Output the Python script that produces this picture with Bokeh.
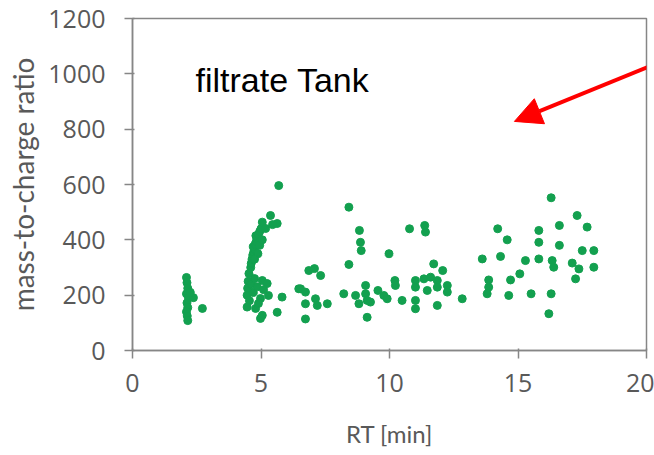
from bokeh.plotting import figure
from bokeh.models import Range1d, FixedTicker, Arrow, NormalHead, Label
from bokeh.embed import file_html
from bokeh.resources import INLINE

# Retention time [min]
rt = [
    # ~2 min cluster
    2.10, 2.12, 2.15, 2.10, 2.18, 2.37, 2.12, 2.15, 2.10, 2.13, 2.15, 2.72, 2.25,
    # ~5 min cluster (upper band)
    4.60, 4.62, 4.65, 4.68, 4.72, 4.75, 4.70, 4.78, 4.82, 4.85, 4.80, 4.90, 4.95, 5.00,
    4.88, 4.95, 5.05, 4.75, 5.05, 5.18, 5.37, 5.63, 5.45, 5.69,
    # ~5 min cluster (lower)
    4.53, 4.50, 4.48, 4.46, 4.46, 4.55, 4.62, 4.70, 4.75, 5.05, 5.24, 5.29, 4.98, 4.79,
    5.05, 4.98, 4.85, 4.90, 5.10, 5.82, 5.63, 6.47,
    # 6.5 - 10 min
    8.42, 8.83, 8.87, 8.90, 9.98, 8.42, 6.86, 7.08, 7.32, 6.54, 6.73, 6.73, 7.12, 7.19,
    7.58, 6.73, 8.22, 8.68, 8.81, 9.07, 9.07, 9.13, 9.26, 9.55, 9.78, 9.13,
    # 10 - 13.5 min
    10.78, 11.37, 11.40, 11.72, 12.07, 10.21, 10.23, 11.01, 11.34, 11.60, 11.86, 11.01,
    11.47, 11.86, 12.25, 12.25, 9.91, 10.49, 11.01, 11.01, 11.86, 12.83,
    # 13.5 - 18 min
    16.29, 17.30, 17.69, 14.21, 14.58, 15.81, 15.81, 16.61, 16.61, 17.50, 17.95, 13.61,
    14.32, 15.29, 15.81, 16.33, 16.39, 17.11, 17.37, 17.95, 17.24, 15.07, 14.71, 13.86,
    13.86, 13.80, 14.64, 15.51, 16.29, 16.20,
]

# mass-to-charge ratio
mz = [
    264, 245, 225, 205, 190, 191, 172, 155, 140, 125, 108, 152, 210,
    300, 315, 330, 345, 355, 365, 375, 385, 395, 405, 415, 420, 430, 440,
    350, 380, 400, 330, 464, 441, 488, 459, 455, 596,
    278, 250, 225, 200, 157, 180, 240, 210, 260, 253, 242, 199, 188, 152,
    127, 116, 230, 170, 220, 193, 138, 223,
    518, 434, 391, 361, 350, 311, 289, 296, 271, 223, 211, 169, 187, 163,
    169, 114, 205, 199, 169, 235, 205, 181, 175, 217, 199, 120,
    440, 452, 428, 313, 289, 253, 235, 253, 259, 265, 253, 229,
    217, 229, 235, 211, 187, 181, 181, 151, 163, 187,
    552, 488, 446, 440, 400, 434, 391, 452, 380, 361, 361, 331,
    340, 325, 331, 325, 301, 316, 295, 301, 259, 277, 255, 255,
    229, 205, 199, 205, 205, 133,
]

x_ticks = [0, 5, 10, 15, 20]
y_ticks = [0, 200, 400, 600, 800, 1000, 1200]

axis_grey = "#868686"
label_grey = "#595959"
green = "#13a04f"

p = figure(width=654, height=455, output_backend="svg", toolbar_location=None,
           x_range=Range1d(0, 20), y_range=Range1d(0, 1200),
           min_border_left=132, min_border_right=8, min_border_top=18,
           min_border_bottom=105)

p.xgrid.visible = False
p.ygrid.visible = False
p.outline_line_color = axis_grey
p.outline_line_width = 1.5
p.background_fill_color = "white"
p.border_fill_color = "white"

for ax, ticks in ((p.xaxis[0], x_ticks), (p.yaxis[0], y_ticks)):
    ax.ticker = FixedTicker(ticks=ticks)
    ax.axis_line_color = axis_grey
    ax.axis_line_width = 1.5
    ax.major_tick_line_color = axis_grey
    ax.major_tick_line_width = 1.5
    ax.major_tick_out = 8
    ax.major_tick_in = 2
    ax.minor_tick_line_color = None
    ax.major_label_text_font = "Open Sans"
    ax.major_label_text_font_size = "25px"
    ax.major_label_text_color = label_grey
    ax.axis_label_text_font = "Lato"
    ax.axis_label_text_font_style = "normal"
    ax.axis_label_text_color = label_grey

p.xaxis.axis_label = "RT [min]"
p.yaxis.axis_label = "mass-to-charge ratio"
p.xaxis.axis_label_text_font_size = "24px"
p.yaxis.axis_label_text_font_size = "28px"
p.xaxis.major_label_standoff = 15
p.yaxis.major_label_standoff = 19
p.xaxis.axis_label_standoff = 24
p.yaxis.axis_label_standoff = 5

p.scatter(rt, mz, size=8, color=green, line_color=green)

p.add_layout(Label(x=2.45, y=979, text="filtrate Tank", text_font="Liberation Sans",
                   text_font_size="34px", text_color="black",
                   text_baseline="alphabetic"))

p.add_layout(Arrow(end=NormalHead(size=27, fill_color="red", line_color="red"),
                   x_start=20.6, y_start=1045, x_end=14.86, y_end=828,
                   line_color="red", line_width=4))

open("out.html", "w").write(file_html(p, INLINE))
